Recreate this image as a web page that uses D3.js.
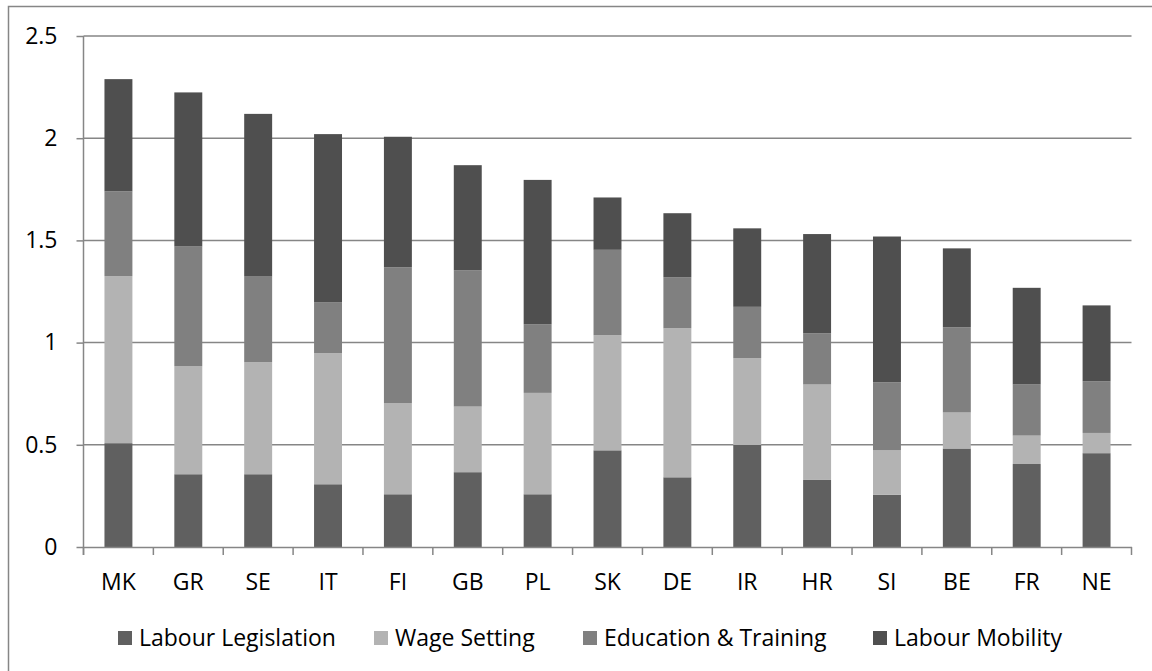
<!DOCTYPE html>
<html>
<head>
<meta charset="utf-8">
<script src="https://cdn.jsdelivr.net/npm/d3@7"></script>
<style>
  html, body { margin: 0; padding: 0; background: #ffffff; }
  svg text { font-family: "Open Sans", sans-serif; fill: #000000; }
</style>
</head>
<body>
<script>
'use strict';

// countries in the order shown
const countries = ["MK", "GR", "SE", "IT", "FI", "GB", "PL", "SK", "DE", "IR", "HR", "SI", "BE", "FR", "NE"];

// series values (bottom to top)
const labourLegislation = [0.508, 0.356, 0.356, 0.307, 0.258, 0.366, 0.258, 0.473, 0.341, 0.499, 0.328, 0.256, 0.482, 0.406, 0.459];
const wageSetting       = [0.817, 0.528, 0.548, 0.641, 0.445, 0.321, 0.496, 0.563, 0.729, 0.425, 0.467, 0.217, 0.176, 0.139, 0.099];
const educationTraining = [0.415, 0.586, 0.419, 0.250, 0.665, 0.667, 0.336, 0.418, 0.250, 0.251, 0.250, 0.333, 0.417, 0.250, 0.253];
const labourMobility    = [0.549, 0.754, 0.796, 0.822, 0.639, 0.514, 0.706, 0.256, 0.313, 0.384, 0.486, 0.713, 0.386, 0.473, 0.371];

const seriesNames = ["Labour Legislation", "Wage Setting", "Education & Training", "Labour Mobility"];
const seriesColors = ["#606060", "#b3b3b3", "#808080", "#4f4f4f"];

const yTicks = [0, 0.5, 1, 1.5, 2, 2.5];
const yTickLabels = ["0", "0.5", "1", "1.5", "2", "2.5"];

const width = 1152, height = 671;
const plot = { left: 83.5, right: 1131.5, top: 36, bottom: 547 };
const axisColor = "#868686";
const fontSize = "23px";

const svg = d3.select("body").append("svg")
  .attr("width", width)
  .attr("height", height);

// outer chart border (runs off the bottom/right of the picture)
svg.append("rect")
  .attr("x", 8.5)
  .attr("y", 6.5)
  .attr("width", 1160)
  .attr("height", 680)
  .attr("fill", "#ffffff")
  .attr("stroke", axisColor)
  .attr("stroke-width", 1.5);

// scales
let xScale = d3.scaleBand()
  .domain(countries)
  .range([plot.left, plot.right])
  .paddingInner(0.6)
  .paddingOuter(0.3);

let yScale = d3.scaleLinear()
  .domain([0, 2.5])
  .range([plot.bottom, plot.top]);

// horizontal gridlines
svg.append("g")
  .selectAll("line")
  .data(yTicks.slice(1))
  .enter()
  .append("line")
    .attr("x1", plot.left)
    .attr("x2", plot.right)
    .attr("y1", (d) => yScale(d))
    .attr("y2", (d) => yScale(d))
    .attr("stroke", axisColor)
    .attr("stroke-width", 1.5);

// stack the four series
let rows = countries.map((c, i) => ({
  country: c,
  "Labour Legislation": labourLegislation[i],
  "Wage Setting": wageSetting[i],
  "Education & Training": educationTraining[i],
  "Labour Mobility": labourMobility[i]
}));
let stacked = d3.stack().keys(seriesNames)(rows);

svg.append("g")
  .selectAll("g")
  .data(stacked)
  .enter()
  .append("g")
    .attr("fill", (d, i) => seriesColors[i])
  .selectAll("rect")
  .data((d) => d)
  .enter()
  .append("rect")
    .attr("x", (d) => xScale(d.data.country))
    .attr("width", xScale.bandwidth())
    .attr("y", (d) => yScale(d[1]))
    .attr("height", (d) => yScale(d[0]) - yScale(d[1]));

// y axis
let yAxis = d3.axisLeft(yScale)
  .tickValues(yTicks)
  .tickFormat((d, i) => yTickLabels[i])
  .tickSize(7)
  .tickPadding(19);

let yG = svg.append("g")
  .attr("transform", "translate(" + plot.left + ",0)")
  .call(yAxis);
yG.select(".domain").attr("stroke", axisColor).attr("stroke-width", 1.5)
  .attr("d", "M0," + (plot.bottom + 8) + "V" + plot.top);
yG.selectAll(".tick line").attr("stroke", axisColor).attr("stroke-width", 1.5);
yG.selectAll(".tick text").style("font-size", fontSize).attr("fill", "#000");

// x axis (labels at band centres, tick marks at band edges)
let xAxis = d3.axisBottom(xScale)
  .tickSize(0)
  .tickPadding(27);

let xG = svg.append("g")
  .attr("transform", "translate(0," + plot.bottom + ")")
  .call(xAxis);
xG.select(".domain").attr("stroke", axisColor).attr("stroke-width", 1.5);
xG.selectAll(".tick text").style("font-size", fontSize).attr("fill", "#000");

let step = xScale.step();
let edges = countries.map((c) => xScale(c) - step * xScale.paddingInner() / 2);
edges.push(xScale(countries[countries.length - 1]) + xScale.bandwidth() + step * xScale.paddingInner() / 2);

xG.selectAll("line.edge")
  .data(edges)
  .enter()
  .append("line")
    .attr("class", "edge")
    .attr("x1", (d) => d)
    .attr("x2", (d) => d)
    .attr("y1", 0)
    .attr("y2", 8)
    .attr("stroke", axisColor)
    .attr("stroke-width", 1.5);

// legend
let legendX = [118, 374, 583, 873];
let legend = svg.append("g")
  .selectAll("g")
  .data(seriesNames)
  .enter()
  .append("g")
    .attr("transform", (d, i) => "translate(" + legendX[i] + ",631)");

legend.append("rect")
  .attr("width", 14)
  .attr("height", 14)
  .attr("fill", (d, i) => seriesColors[i]);

legend.append("text")
  .attr("x", 21)
  .attr("y", 7)
  .attr("dy", "0.35em")
  .style("font-size", fontSize)
  .text((d) => d);
</script>
</body>
</html>
